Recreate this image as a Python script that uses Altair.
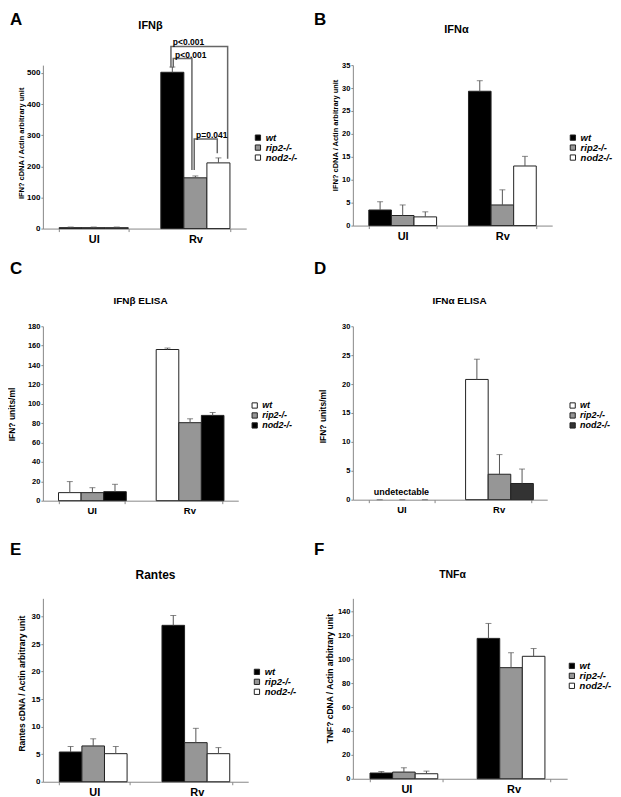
import altair as alt
import pandas as pd

conditions = ["UI", "Rv"]
genotypes = ["wt", "rip2-/-", "nod2-/-"]

panel_letters = ["A", "B", "C", "D", "E", "F"]
panel_titles = ["IFNβ", "IFNα", "IFNβ ELISA", "IFNα ELISA", "Rantes", "TNFα"]
y_titles = [
    "IFN? cDNA / Actin arbitrary unit",
    "IFN? cDNA / Actin arbitrary unit",
    "IFN? units/ml",
    "IFN? units/ml",
    "Rantes cDNA / Actin arbitrary unit",
    "TNF? cDNA / Actin arbitrary unit",
]
y_ticks = [
    [0, 100, 200, 300, 400, 500],
    [0, 5, 10, 15, 20, 25, 30, 35],
    [0, 20, 40, 60, 80, 100, 120, 140, 160, 180],
    [0, 5, 10, 15, 20, 25, 30],
    [0, 5, 10, 15, 20, 25, 30],
    [0, 20, 40, 60, 80, 100, 120, 140],
]
y_max = [525, 35, 180, 30, 33.3, 151]

# order of values: UI (wt, rip2, nod2), Rv (wt, rip2, nod2)
a_mean = [3, 3, 3, 502, 163, 211]
a_err = [2, 2, 2, 17, 6, 16]
b_mean = [3.4, 2.2, 1.9, 29.3, 4.5, 13.0]
b_err = [1.8, 2.3, 1.1, 2.3, 3.3, 2.1]
c_mean = [8.3, 8.3, 9.3, 156, 80.5, 88]
c_err = [11.4, 5.1, 7.6, 1.5, 4, 3]
d_mean = [0, 0, 0, 20.8, 4.4, 2.8]
d_err = [0, 0, 0, 3.5, 3.4, 2.5]
e_mean = [5.4, 6.5, 5.1, 28.4, 7.1, 5.1]
e_err = [1.0, 1.3, 1.3, 1.8, 2.6, 1.1]
f_mean = [4.8, 5.6, 4.2, 117.5, 93, 102.5]
f_err = [1.3, 3.6, 2.2, 12.5, 12.5, 6.5]

# significance brackets in panel A (Rv group)
sig_from = ["wt", "wt", "rip2-/-"]
sig_to = ["nod2-/-", "rip2-/-", "nod2-/-"]
sig_level = [585, 546, 288]
sig_from_base = [517, 517, 188]
sig_to_base = [224, 188, 242]
sig_labels = ["p<0.001", "p<0.001", "p=0.041"]

# note in panel D
note_text = ["undetectable"]
note_cond = ["UI"]
note_y = [1.4]

DARK_FIRST = ["#000000", "#969696", "#ffffff"]
WHITE_FIRST_C = ["#ffffff", "#969696", "#000000"]
WHITE_FIRST_D = ["#ffffff", "#969696", "#333333"]

# per-panel style / layout settings
styles = [
    dict(mean=a_mean, err=a_err, colors=DARK_FIRST, w=204, h=164, xfs=11, yfs=8, ytfs=7.5,
         tx=-21, ty=78, lx=211, ly=68, lfs=9.5, ttx=108, tty=-36, tfs=11, letx=-33, lety=-53),
    dict(mean=b_mean, err=b_err, colors=DARK_FIRST, w=200, h=161, xfs=11, yfs=7.5, ytfs=7.5,
         tx=-17, ty=70, lx=216, ly=68, lfs=9.5, ttx=104, tty=-32, tfs=11, letx=-39, lety=-53),
    dict(mean=c_mean, err=c_err, colors=WHITE_FIRST_C, w=196, h=175, xfs=9.5, yfs=7.5, ytfs=8.5,
         tx=-31, ty=88, lx=208, ly=75, lfs=9, ttx=98, tty=-22, tfs=10, letx=-33, lety=-65),
    dict(mean=d_mean, err=d_err, colors=WHITE_FIRST_D, w=195, h=174, xfs=9.5, yfs=7.5, ytfs=8.5,
         tx=-30, ty=90, lx=216, ly=75, lfs=9, ttx=107, tty=-22, tfs=10, letx=-39, lety=-65),
    dict(mean=e_mean, err=e_err, colors=DARK_FIRST, w=206, h=184, xfs=11, yfs=8, ytfs=8.5,
         tx=-21, ty=85, lx=210, ly=69, lfs=9.5, ttx=113, tty=-19, tfs=12, letx=-33, lety=-56),
    dict(mean=f_mean, err=f_err, colors=DARK_FIRST, w=215, h=181, xfs=11, yfs=7.5, ytfs=8.5,
         tx=-23, ty=80, lx=215, ly=63, lfs=9.5, ttx=100, tty=-20, tfs=10.5, letx=-39, lety=-56),
]

LEG_SHIFT_FROM = [-0.06, 0.04, -0.05]
LEG_SHIFT_TO = [0.4, -0.15, -0.05]


def make_panel(k):
    s = styles[k]
    df = pd.DataFrame({
        "cond": [cd for cd in conditions for _ in genotypes],
        "geno": genotypes * len(conditions),
        "mean": s["mean"],
        "err": s["err"],
    })
    df["top"] = df["mean"] + df["err"]

    x = alt.X(
        "cond:N", sort=conditions, title=None,
        scale=alt.Scale(paddingInner=0.32, paddingOuter=0.16),
        axis=alt.Axis(labelAngle=0, tickBand="extent", tickSize=3, labelPadding=2,
                      labelFontSize=s["xfs"], labelFontWeight="bold", labelColor="#000",
                      domainColor="#888", tickColor="#888"),
    )
    y_axis = alt.Axis(
        values=y_ticks[k], title=y_titles[k], grid=False, tickSize=2, labelPadding=1,
        labelFontSize=s["yfs"], labelFontWeight="bold", labelColor="#000",
        titleFontSize=s["ytfs"], titleFontWeight="bold", titleColor="#000",
        titleX=s["tx"], titleY=s["ty"], titleAngle=270,
        titleBaseline="middle", titleAlign="center",
        domainColor="#888", tickColor="#888",
    )
    yscale = alt.Scale(domain=[0, y_max[k]], nice=False, zero=True)
    xo = alt.XOffset("geno:N", scale=alt.Scale(domain=genotypes, paddingInner=0, paddingOuter=0))

    bars = alt.Chart(df).transform_filter("datum.mean > 0").mark_bar(
        stroke="#222", strokeWidth=1
    ).encode(
        x=x, xOffset=xo,
        y=alt.Y("mean:Q", scale=yscale, axis=y_axis),
        color=alt.Color(
            "geno:N",
            scale=alt.Scale(domain=genotypes, range=s["colors"]),
            legend=alt.Legend(
                title=None, orient="none", legendX=s["lx"], legendY=s["ly"],
                symbolType="square", symbolSize=28, symbolStrokeColor="#222",
                symbolStrokeWidth=1, labelFontSize=s["lfs"], labelFontWeight="bold",
                labelFontStyle="italic", labelOffset=3, rowPadding=-2.5, padding=0,
                labelColor="#000", symbolOpacity=1,
            ),
        ),
    )
    rules = alt.Chart(df).mark_rule(color="#555", strokeWidth=1).encode(
        x=x, xOffset=xo, y=alt.Y("mean:Q", scale=yscale, axis=y_axis), y2="top:Q"
    )
    caps = alt.Chart(df).mark_tick(color="#555", thickness=1, size=6).encode(
        x=x, xOffset=xo, y=alt.Y("top:Q", scale=yscale, axis=y_axis)
    )
    layers = [bars, rules, caps]

    lab = pd.DataFrame({"label": [panel_letters[k]], "title": [panel_titles[k]]})
    letter = alt.Chart(lab).mark_text(
        align="left", baseline="top", fontSize=17, fontWeight="bold", color="#000"
    ).encode(text="label:N", x=alt.value(s["letx"]), y=alt.value(s["lety"]))
    title = alt.Chart(lab).mark_text(
        align="center", baseline="alphabetic", fontSize=s["tfs"], fontWeight="bold", color="#000"
    ).encode(text="title:N", x=alt.value(s["ttx"]), y=alt.value(s["tty"]))
    layers += [letter, title]

    if k == 0:
        rows, trows = [], []
        for b in range(len(sig_from)):
            p0 = genotypes.index(sig_from[b]) + 0.5 + LEG_SHIFT_FROM[b]
            p1 = genotypes.index(sig_to[b]) + 0.5 + LEG_SHIFT_TO[b]
            pts = [(p0, sig_from_base[b]), (p0, sig_level[b]), (p1, sig_level[b]), (p1, sig_to_base[b])]
            for o, (pp, yy) in enumerate(pts):
                rows.append({"cond": "Rv", "pos": pp, "yv": yy, "bid": b, "ord": o})
            trows.append({"cond": "Rv", "pos": p0 + 0.08, "yv": sig_level[b], "t": sig_labels[b]})
        bdf = pd.DataFrame(rows)
        tdf = pd.DataFrame(trows)
        qo = alt.XOffset("pos:Q", scale=alt.Scale(domain=[0, 3], nice=False, zero=False))
        brackets = alt.Chart(bdf).mark_line(color="#666", strokeWidth=1.5).encode(
            x=x, xOffset=qo, y=alt.Y("yv:Q", scale=yscale, axis=y_axis),
            detail="bid:N", order="ord:Q",
        )
        ptext = alt.Chart(tdf).mark_text(
            align="left", baseline="bottom", fontSize=8.5, fontWeight="bold", color="#000", dy=1
        ).encode(x=x, xOffset=qo, y=alt.Y("yv:Q", scale=yscale, axis=y_axis), text="t:N")
        layers += [brackets, ptext]

    if k == 3:
        ndf = pd.DataFrame({"cond": note_cond, "yv": note_y, "t": note_text})
        note = alt.Chart(ndf).mark_text(
            baseline="middle", fontSize=9, fontWeight="bold", color="#000"
        ).encode(x=x, y=alt.Y("yv:Q", scale=yscale, axis=y_axis), text="t:N")
        layers.append(note)

    ch = alt.layer(*layers).properties(width=s["w"], height=s["h"])
    if k == 0:
        ch = ch.resolve_scale(xOffset="independent")
    return ch


panels = [make_panel(k) for k in range(6)]

chart = alt.ConcatChart(
    concat=panels, columns=2,
    spacing={"row": 98, "column": 105},
    bounds="flush",
).resolve_scale(color="independent").properties(
    padding={"left": 0, "top": 2, "right": 0, "bottom": 0}
).configure(font="Liberation Sans").configure_view(strokeWidth=0)

chart.save("out.html", embed_options={"renderer": "svg", "actions": False})
